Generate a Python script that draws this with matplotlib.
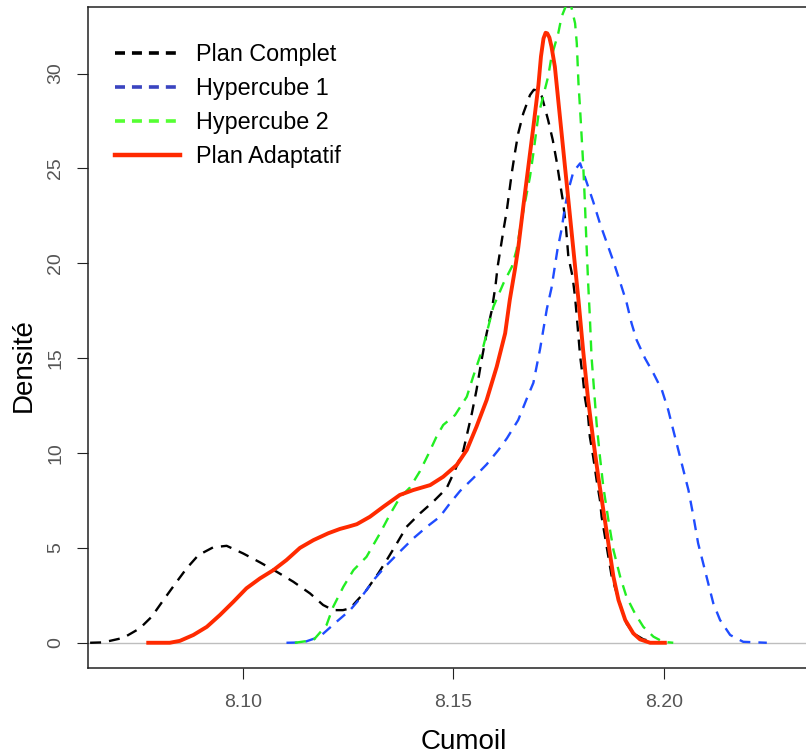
import matplotlib
matplotlib.use("Agg")
import matplotlib.pyplot as plt
from matplotlib.lines import Line2D

plt.rcParams['font.family'] = ['Liberation Sans', 'DejaVu Sans']
plt.rcParams['lines.scale_dashes'] = False

# ---- data ----
complet_x = [8.0638, 8.0669, 8.0717, 8.0756, 8.0784, 8.0812, 8.0839, 8.0867, 8.0895, 8.0930,
             8.0962, 8.1001, 8.1041, 8.1081, 8.1120, 8.1160, 8.1191, 8.1215, 8.1238, 8.1255,
             8.1294, 8.1322, 8.1342, 8.1366, 8.1389, 8.1421, 8.1452, 8.1484, 8.1504, 8.1524,
             8.1544, 8.1555, 8.1567, 8.1579, 8.1591, 8.1600, 8.1605, 8.1619, 8.1627, 8.1639,
             8.1646, 8.1654, 8.1666, 8.1682, 8.1691, 8.1700, 8.1710, 8.1725, 8.1736, 8.1745, 8.1752,
             8.1760, 8.1767, 8.1773, 8.1783, 8.1789, 8.1793, 8.1801, 8.1808, 8.1812, 8.1820,
             8.1824, 8.1832, 8.1840, 8.1848, 8.1852, 8.1860, 8.1868, 8.1876, 8.1888, 8.1900,
             8.1911, 8.1927, 8.1951, 8.1975]
complet_y = [0.0, 0.02, 0.26, 0.76, 1.37, 2.25, 3.08, 3.92, 4.62, 5.03,
             5.11, 4.71, 4.24, 3.74, 3.22, 2.60, 1.99, 1.72, 1.72, 1.81,
             2.78, 3.66, 4.36, 5.24, 6.11, 6.82, 7.43, 8.14, 9.10, 10.16,
             12.09, 13.32, 14.9, 16.3, 17.5, 18.8, 19.8, 21.75, 22.8, 24.8,
             25.8, 26.85, 27.9, 28.87, 29.15, 29.1, 28.8, 27.55, 26.5, 25.4, 24.4,
             23.3, 22.0, 20.35, 19.3, 18.2, 17.2, 15.1, 13.85, 12.97, 11.9,
             10.86, 9.8, 8.58, 7.52, 6.64, 5.59, 4.53, 3.48, 2.6, 1.72,
             1.02, 0.5, 0.18, 0.05]

hyper1_x = [8.1104, 8.1144, 8.1183, 8.1223, 8.1255, 8.1282, 8.1314, 8.1342, 8.1373, 8.1405,
            8.1437, 8.1468, 8.1492, 8.1516, 8.1547, 8.1579, 8.1607, 8.1627, 8.1654, 8.1674,
            8.1690, 8.1706, 8.1722, 8.1733, 8.1747, 8.1757, 8.1765, 8.1773, 8.1785, 8.1801,
            8.1816, 8.1832, 8.1848, 8.1864, 8.1880, 8.1896, 8.1911, 8.1923, 8.1935, 8.1955,
            8.1975, 8.1995, 8.2010, 8.2022, 8.2034, 8.2046, 8.2058, 8.2070, 8.2081, 8.2093,
            8.2105, 8.2117, 8.2133, 8.2157, 8.2188, 8.2244]
hyper1_y = [0.0, 0.02, 0.32, 1.11, 1.72, 2.42, 3.39, 4.1, 4.8, 5.5,
            6.11, 6.64, 7.35, 8.0, 8.67, 9.4, 10.16, 10.77, 11.74, 12.85,
            13.7, 15.5, 17.6, 18.7, 20.7, 21.8, 22.98, 23.86, 24.83, 25.27,
            24.3, 23.25, 22.1, 21.1, 20.1, 19.0, 17.95, 16.84, 15.96, 14.99,
            14.2, 13.32, 12.27, 11.21, 10.16, 9.1, 8.05, 6.64, 5.24, 4.19,
            3.13, 2.08, 1.2, 0.41, 0.05, 0.0]

hyper2_x = [8.1124, 8.1168, 8.1199, 8.1215, 8.1239, 8.1263, 8.1294, 8.1326, 8.1350, 8.1373,
            8.1397, 8.1421, 8.1441, 8.1460, 8.1476, 8.1504, 8.1532, 8.1547, 8.1571, 8.1595,
            8.1619, 8.1639, 8.1650, 8.1662, 8.1682, 8.1690, 8.1702, 8.1714, 8.1725, 8.1733,
            8.1749, 8.1757, 8.1775, 8.1789, 8.1793, 8.1797, 8.1801, 8.1805, 8.1808, 8.1812,
            8.1816, 8.1820, 8.1824, 8.1828, 8.1834, 8.1840, 8.1848, 8.1856, 8.1868, 8.1880,
            8.1896, 8.1911, 8.1931, 8.1951, 8.1975, 8.1998, 8.2022]
hyper2_y = [0.0, 0.14, 0.93, 1.9, 2.95, 3.83, 4.53, 5.77, 6.78, 7.65,
            8.18, 9.05, 9.95, 10.86, 11.48, 12.0, 12.97, 14.02, 15.6, 17.71,
            18.95, 19.82, 20.7, 22.28, 24.57, 25.8, 27.82, 28.87, 29.84, 30.89,
            32.12, 33.0, 34.0, 32.65, 31.6, 29.5, 28.07, 26.5, 25.3, 23.34,
            21.05, 18.95, 17.19, 15.08, 13.32, 11.57, 9.8, 8.22, 6.47, 4.89,
            3.48, 2.42, 1.55, 0.84, 0.32, 0.05, 0.0]

adapt_x = [8.0776, 8.0827, 8.0851, 8.0883, 8.0915, 8.0946, 8.0978, 8.1009, 8.1041, 8.1073,
           8.1104, 8.1136, 8.1168, 8.1203, 8.1231, 8.1251, 8.1271, 8.1302, 8.1334, 8.1373, 8.1405,
           8.1445, 8.1476, 8.1508, 8.1532, 8.1555, 8.1579, 8.1603, 8.1623, 8.1634, 8.1646,
           8.1654, 8.1666, 8.1678, 8.1690, 8.1702, 8.1708, 8.1714, 8.1719, 8.1723, 8.1728,
           8.1733, 8.1741, 8.1749,
           8.1757, 8.1765, 8.1773, 8.1785, 8.1797, 8.1808, 8.1820, 8.1832, 8.1844, 8.1856,
           8.1868, 8.1880, 8.1892, 8.1908, 8.1927, 8.1943, 8.1967, 8.2002]
adapt_y = [0.0, 0.0, 0.1, 0.41, 0.84, 1.46, 2.16, 2.87, 3.39, 3.83,
           4.36, 5.0, 5.41, 5.77, 6.0, 6.12, 6.25, 6.64, 7.17, 7.79, 8.05,
           8.31, 8.75, 9.37, 10.16, 11.39, 12.79, 14.55, 16.31, 18.07, 19.65,
           20.8, 22.98, 25.09, 27.2, 29.4, 30.9, 31.85, 32.15, 32.12, 31.9,
           31.42, 30.36, 28.6,
           26.85, 25.09, 23.34, 20.7, 18.07, 15.43, 12.79, 10.69, 8.75, 7.0,
           5.24, 3.48, 2.25, 1.2, 0.5, 0.18, 0.0, 0.0]

x_ticks = [8.10, 8.15, 8.20]
x_tick_labels = ["8.10", "8.15", "8.20"]
y_ticks = [0, 5, 10, 15, 20, 25, 30]
legend_labels = ["Plan Complet", "Hypercube 1", "Hypercube 2", "Plan Adaptatif"]

# ---- styles ----
C_BLACK = "#000000"
C_BLUE = "#1f4cff"
C_GREEN = "#22ee22"
C_RED = "#ff2a00"
C_LEG_BLUE = "#3a44c0"
C_LEG_GREEN = "#55ff33"
DASH = (0, (7.9, 5.8))

fig = plt.figure(figsize=(8.06, 7.56), dpi=100)
ax = fig.add_axes([88 / 806, 88 / 756, 718 / 806, 661 / 756])

ax.axhline(0, color="#bebebe", lw=1.0, zorder=1)
ax.plot(complet_x, complet_y, color=C_BLACK, lw=1.7, linestyle=DASH, zorder=3)
ax.plot(hyper1_x, hyper1_y, color=C_BLUE, lw=1.7, linestyle=DASH, zorder=3)
ax.plot(hyper2_x, hyper2_y, color=C_GREEN, lw=1.7, linestyle=DASH, zorder=3)
ax.plot(adapt_x, adapt_y, color=C_RED, lw=2.8, linestyle="-", zorder=4,
        solid_joinstyle="round")

ax.set_xlim(8.0633, 8.2337)
ax.set_ylim(-1.33, 33.51)

ax.set_xticks(x_ticks)
ax.set_xticklabels(x_tick_labels)
ax.set_yticks(y_ticks)
ax.tick_params(axis="both", direction="out", length=8, width=0.8, color="#222222",
               labelsize=14, labelcolor="#555555")
ax.tick_params(axis="x", pad=11)
ax.tick_params(axis="y", pad=9, labelrotation=90)
for lab in ax.get_yticklabels():
    lab.set_va("center")

for side in ["left", "bottom", "top"]:
    ax.spines[side].set_linewidth(1.1)
    ax.spines[side].set_color("#222222")
ax.spines["right"].set_visible(False)

ax.set_xlabel("Cumoil", fontsize=20, color="black")
ax.set_ylabel("Densité", fontsize=20, color="black")
ax.xaxis.set_label_coords((464 - 88) / 718, (668 - 729) / 661)
ax.yaxis.set_label_coords((37 - 88) / 718, (668 - 365) / 661)

handles = [
    Line2D([], [], color=C_BLACK, lw=2.6, linestyle=(0, (7.2, 5.0))),
    Line2D([], [], color=C_LEG_BLUE, lw=2.6, linestyle=(0, (7.2, 5.0))),
    Line2D([], [], color=C_LEG_GREEN, lw=2.6, linestyle=(0, (7.2, 5.0))),
    Line2D([], [], color=C_RED, lw=3.2, linestyle="-"),
]
leg = ax.legend(handles, legend_labels, loc="upper left",
                bbox_to_anchor=(115 / 806, 1 - 43 / 756), bbox_transform=fig.transFigure,
                frameon=False, fontsize=16.8, borderpad=0, borderaxespad=0,
                handlelength=2.8, handletextpad=0.68, labelspacing=0.47)

fig.savefig("out.png", dpi=100)
